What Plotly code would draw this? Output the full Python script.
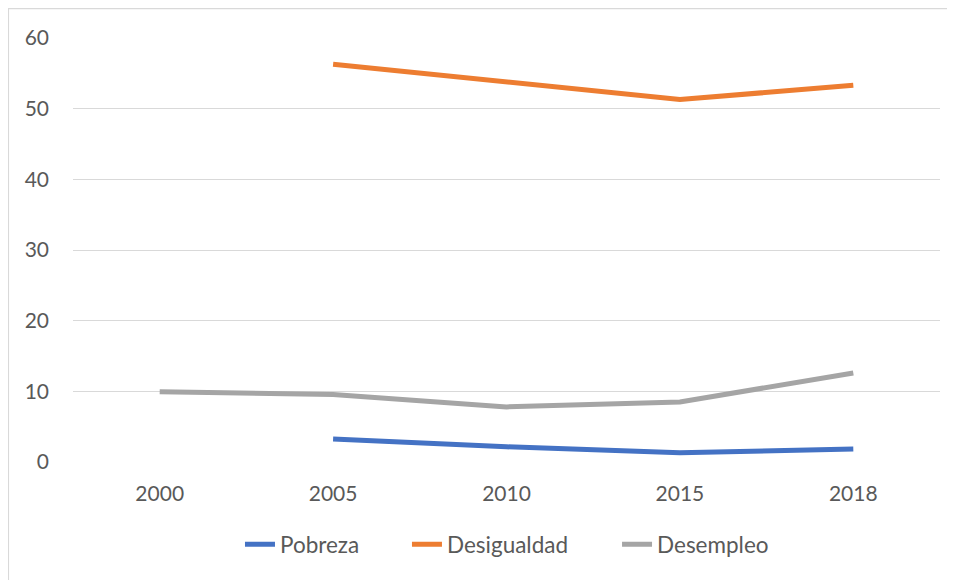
import plotly.graph_objects as go

years = ["2000", "2005", "2010", "2015", "2018"]
pobreza = [None, 3.25, 2.15, 1.3, 1.85]
desigualdad = [None, 56.3, 53.8, 51.3, 53.3]
desempleo = [9.95, 9.55, 7.8, 8.5, 12.6]

series = [
    ("Pobreza", pobreza, "#4472C4", "legend", 0.1926),
    ("Desigualdad", desigualdad, "#ED7D31", "legend2", 0.3852),
    ("Desempleo", desempleo, "#A5A5A5", "legend3", 0.6275),
]

fig = go.Figure()
legend_cfg = {}
for name, vals, color, leg, lx in series:
    fig.add_trace(go.Scatter(
        x=years, y=vals, name=name, mode="lines", legend=leg,
        line=dict(color=color, width=5), connectgaps=False,
    ))
    legend_cfg[leg] = dict(orientation="h", x=lx, xanchor="left", y=-0.195, yanchor="middle",
                           font=dict(size=22.5, color="#595959"), itemwidth=30,
                           bgcolor="rgba(0,0,0,0)")

font_family = "Lato, 'Open Sans', sans-serif"
fig.update_layout(
    width=955, height=580,
    margin=dict(l=65, r=23, t=29.5, b=126),
    paper_bgcolor="white", plot_bgcolor="white",
    font=dict(family=font_family, size=21, color="#595959"),
    showlegend=True,
    xaxis=dict(type="category", range=[-0.5, 4.5], showgrid=False, zeroline=False,
               showline=False, ticks="", ticklabelstandoff=17),
    yaxis=dict(range=[0, 60], tickvals=[0, 10, 20, 30, 40, 50, 60], showgrid=True,
               gridcolor="#D9D9D9", gridwidth=1.3, zeroline=False, showline=False,
               ticks="", ticklabelstandoff=23),
    shapes=[dict(type="rect", xref="paper", yref="paper",
                 x0=-0.0745, x1=1.0162, y0=-0.33, y1=1.0695,
                 line=dict(color="#D9D9D9", width=1.3), fillcolor="rgba(0,0,0,0)",
                 layer="below")],
    **legend_cfg,
)

fig.write_html("out.html")
